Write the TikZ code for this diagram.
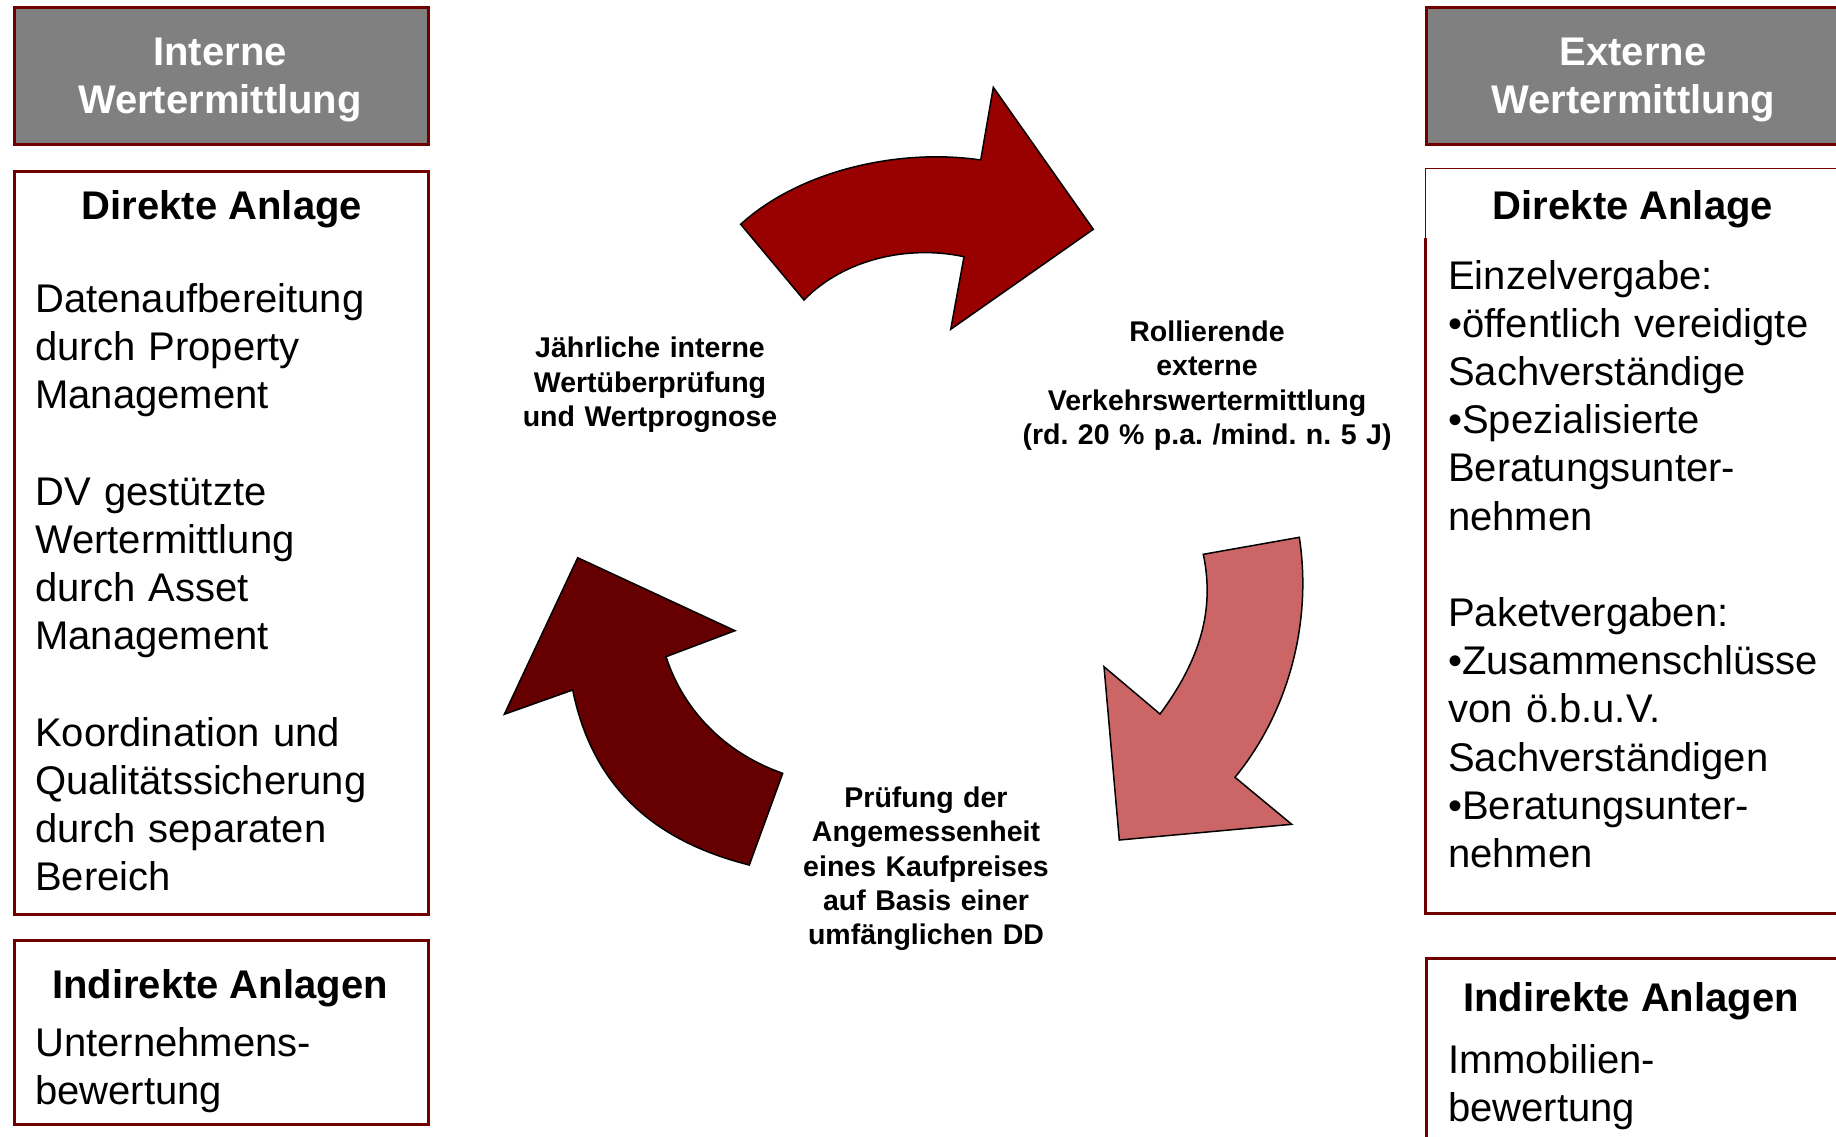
\documentclass[tikz,border=0pt]{standalone}
\usepackage{fontspec}
\setmainfont{Liberation Sans}[Ligatures=NoCommon]
\definecolor{boxred}{HTML}{700000}
\definecolor{hdrgrey}{HTML}{808080}
\definecolor{arrowA}{HTML}{990000}
\definecolor{arrowB}{HTML}{CC6666}
\definecolor{arrowC}{HTML}{660000}
\frenchspacing
\begin{document}
\begin{tikzpicture}[x=1pt,y=-1pt]
\tikzset{
 frame/.style={draw=boxred, line width=3pt, fill=white, inner sep=0pt, anchor=north west},
 hdr/.style={frame, fill=hdrgrey},
 hdrtext/.style={text=white, font=\fontsize{40}{48.3}\selectfont\bfseries, align=center, text width=420pt, inner sep=0pt, anchor=base},
 titletext/.style={font=\fontsize{40}{48}\selectfont\bfseries, inner sep=0pt, anchor=base},
 bodytext/.style={font=\fontsize{40}{48.2}\selectfont\frenchspacing, align=left, text width=450pt, inner sep=0pt, anchor=base west},
 lbl/.style={font=\fontsize{28.5}{34.3}\selectfont\bfseries\frenchspacing, align=center, text width=420pt, inner sep=0pt, anchor=base},
 arrowshape/.style={draw=black, line width=1.5pt, line join=miter}
}
\useasboundingbox (0,0) rectangle (1836,1136);
\clip (0,0) rectangle (1836,1136);
\fill[white] (0,0) rectangle (1836,1136);

% left column boxes
\node[hdr, minimum width=414pt, minimum height=137pt] (ihdr) at (13,6) {};
\node[frame, minimum width=414pt, minimum height=743pt] (idir) at (13,170) {};
\node[frame, minimum width=414pt, minimum height=184pt] (iind) at (13,939) {};

% right column boxes
\node[hdr, minimum width=440pt, minimum height=137pt] (ehdr) at (1425,6) {};
\node[draw=none, fill=white, inner sep=0pt, anchor=north west, minimum width=440pt, minimum height=745pt] (edir) at (1425,168) {};
\draw[boxred, line width=1pt] (edir.north east) -- (edir.north west) -- ([yshift=-70pt]edir.north west);
\draw[boxred, line width=3pt] ([yshift=-70pt]edir.north west) -- (edir.south west) -- (edir.south east);
\node[frame, minimum width=440pt, minimum height=200pt] (eind) at (1425,957) {};

% header texts
\node[hdrtext] (ihdrt) at (220,65) {Interne\\Wertermittlung};
\node[hdrtext] (ehdrt) at (1633,65) {Externe\\Wertermittlung};

% left box texts
\node[titletext] (idirt) at (222,219) {Direkte Anlage};
\node[bodytext] (idirb) at (35,312.4) {Datenaufbereitung\\durch Property\\Management\\[48.2pt]DV gestützte\\Wertermittlung\\durch Asset\\Management\\[48.2pt]Koordination und\\Qualitätssicherung\\durch separaten\\Bereich};
\node[titletext] (iindt) at (220,998.5) {Indirekte Anlagen};
\node[bodytext] (iindb) at (35,1056.7) {Unternehmens-\\bewertung};

% right box texts
\node[titletext] (edirt) at (1633,219) {Direkte Anlage};
\node[bodytext] (edirb) at (1448,289) {Einzelvergabe:\\•öffentlich vereidigte\\Sachverständige\\•Spezialisierte\\Beratungsunter-\\nehmen\\[48.2pt]Paketvergaben:\\•Zusammenschlüsse\\von ö.b.u.V.\\Sachverständigen\\•Beratungsunter-\\nehmen};
\node[titletext] (eindt) at (1631,1011.7) {Indirekte Anlagen};
\node[bodytext] (eindb) at (1448,1073.3) {Immobilien-\\bewertung};

% cycle labels
\node[lbl] (lj) at (650,357.8) {Jährliche interne\\Wertüberprüfung\\und Wertprognose};
\node[lbl] (lr) at (1207,341.4) {Rollierende\\externe\\Verkehrswertermittlung\\(rd. 20 \% p.a. /mind. n. 5 J)};
\node[lbl] (lp) at (926,807.4) {Prüfung der\\Angemessenheit\\eines Kaufpreises\\auf Basis einer\\umfänglichen DD};

% cycle arrows
\filldraw[arrowshape, fill=arrowA] (740.7,224.3) -- (804,300) .. controls (845,258) and (910,245) .. (964,256.7) -- (950.7,329.3) -- (1093.3,229.3) -- (993.3,87.3) -- (980.7,160) .. controls (900,148) and (800,170) .. (740.7,224.3) -- cycle;
\filldraw[arrowshape, fill=arrowB] (1203.3,554.3) -- (1299.3,537.3) .. controls (1312,620) and (1290,710) .. (1235,777.3) -- (1291.7,824.3) -- (1119.3,840) -- (1104,666.7) -- (1160,714) .. controls (1200,660) and (1215,610) .. (1203.3,554.3) -- cycle;
\filldraw[arrowshape, fill=arrowC] (749.3,865) -- (782.7,773.3) .. controls (730,755) and (685,715) .. (666,656.7) -- (735,630.7) -- (577.7,557.7) -- (504.3,714.3) -- (572.7,690) .. controls (595,800) and (670,845) .. (749.3,865) -- cycle;
\end{tikzpicture}
\end{document}
